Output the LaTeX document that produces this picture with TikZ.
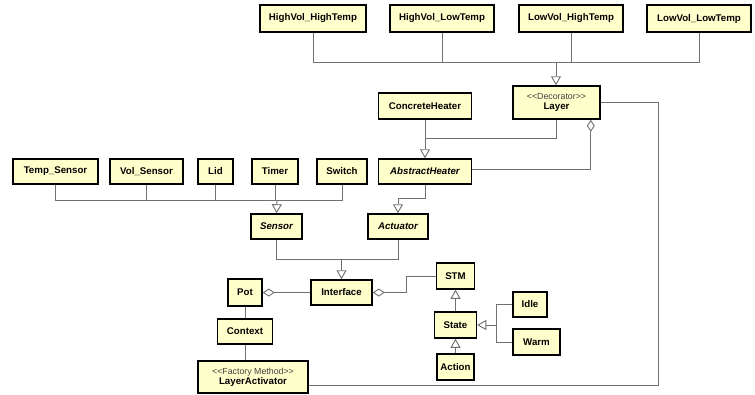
\documentclass[tikz,border=0pt]{standalone}
\usepackage{fontspec}
\setmainfont{Liberation Sans}
\usetikzlibrary{arrows.meta}
\definecolor{boxfill}{HTML}{FFFFCC}
\definecolor{linegray}{HTML}{707070}
\definecolor{stereo}{HTML}{404040}
\tikzset{
  cls/.style={draw=black, line width=1.5pt, fill=boxfill, inner sep=0pt,
    font=\fontsize{9.7}{11}\selectfont\bfseries, align=center},
  abstr/.style={cls, font=\fontsize{9.7}{11}\selectfont\bfseries\itshape},
  conn/.style={draw=linegray, line width=0.9pt},
  gen/.style={conn, -{Triangle[open, width=10pt, length=9pt, fill=white]}},
  agg/.style={conn, {Diamond[open, width=8pt, length=12pt, fill=white]}-},
}
\newcommand{\stype}[1]{{\fontsize{8.8}{10}\selectfont\mdseries\color{stereo}#1}}
\begin{document}
\begin{tikzpicture}[x=1pt, y=-1pt]
\useasboundingbox (0,0) rectangle (755,394);

% decorator variants
\node[cls, minimum width=106, minimum height=27] (hvht) at (313,18.5) {HighVol\_HighTemp};
\node[cls, minimum width=104, minimum height=27] (hvlt) at (442,18.5) {HighVol\_LowTemp};
\node[cls, minimum width=104, minimum height=27] (lvht) at (571,18.5) {LowVol\_HighTemp};
\node[cls, minimum width=104, minimum height=27] (lvlt) at (699,18.5) {LowVol\_LowTemp};

% decorator and heaters
\node[cls, minimum width=87, minimum height=33] (layer) at (556.5,102.5)
  {\stype{<{}<Decorator>{}>}\\[-1pt]Layer};
\node[cls, minimum width=93, minimum height=26] (ch) at (425,106) {ConcreteHeater};
\node[abstr, minimum width=93, minimum height=25] (ah) at (425,171.5) {AbstractHeater};

% sensors
\node[cls, minimum width=85, minimum height=25] (temp) at (55.5,171.5) {Temp\_Sensor};
\node[cls, minimum width=73, minimum height=25] (vol) at (146.5,171.5) {Vol\_Sensor};
\node[cls, minimum width=35, minimum height=25] (lid) at (215.5,171.5) {Lid};
\node[cls, minimum width=46, minimum height=25] (timer) at (275,171.5) {Timer};
\node[cls, minimum width=50, minimum height=25] (switch) at (342,171.5) {Switch};

\node[abstr, minimum width=51, minimum height=25] (sensor) at (276.5,226.5) {Sensor};
\node[abstr, minimum width=60, minimum height=25] (act) at (398,226.5) {Actuator};

% interface and state machine
\node[cls, minimum width=61, minimum height=25] (iface) at (341.5,292.5) {Interface};
\node[cls, minimum width=34, minimum height=27] (pot) at (245,292.5) {Pot};
\node[cls, minimum width=38, minimum height=26] (stm) at (455.5,276) {STM};
\node[cls, minimum width=42, minimum height=26] (state) at (455.5,325) {State};
\node[cls, minimum width=34, minimum height=25] (idle) at (530,304.5) {Idle};
\node[cls, minimum width=47, minimum height=26] (warm) at (536.5,342) {Warm};
\node[cls, minimum width=37, minimum height=26] (action) at (455.5,367) {Action};
\node[cls, minimum width=55, minimum height=25] (ctx) at (245,331.5) {Context};
\node[cls, minimum width=110, minimum height=32] (la) at (253,377)
  {\stype{<{}<Factory Method>{}>}\\[-1pt]LayerActivator};

% junction points
\coordinate (topj) at (556,62);
\coordinate (chj) at (425,138);
\coordinate (sj) at (277,200);
\coordinate (abj) at (398,198);
\coordinate (ij) at (341.5,259);
\coordinate (mj) at (406,292.5);
\coordinate (stj) at (496,325);
\coordinate (rj) at (658,385);

% decorators specialise Layer
\foreach \n in {hvht,hvlt,lvht,lvlt} \draw[conn] (\n.south) |- (topj);
\draw[gen] (topj) -- (topj |- layer.north);

% Layer and ConcreteHeater specialise AbstractHeater
\draw[conn] (ch.south) -- (chj);
\draw[conn] (layer.south) |- (chj);
\draw[gen] (chj) -- (ah.north);
\draw[agg] ([xshift=-10pt]layer.south east) |- ([yshift=2.5pt]ah.east);

% Layer feeds the factory
\draw[conn] (layer.east) -| (rj) -- (la.east |- rj);

% sensors
\foreach \n in {temp,vol,lid,timer,switch} \draw[conn] (\n.south) |- (sj);
\draw[gen] (sj) -- (sensor.north);
\draw[gen] (ah.south) |- (abj) -- (act.north);

% interface
\draw[conn] (sensor.south) |- (ij);
\draw[conn] (act.south) |- (ij);
\draw[gen] (ij) -- (iface.north);
\draw[agg] (pot.east) -- (iface.west);
\draw[agg] (iface.east) -- (mj) |- (stm.west);

% state machine
\draw[gen] (state.north) -- (stm.south);
\draw[gen] (action.north) -- (state.south);
\draw[conn] (idle.west) -| (stj);
\draw[conn] (warm.west) -| (stj);
\draw[gen] (stj) -- (state.east);

% context chain
\draw[conn] (pot.south) -- (ctx.north);
\draw[conn] (ctx.south) -- (ctx.south |- la.north);
\end{tikzpicture}
\end{document}
